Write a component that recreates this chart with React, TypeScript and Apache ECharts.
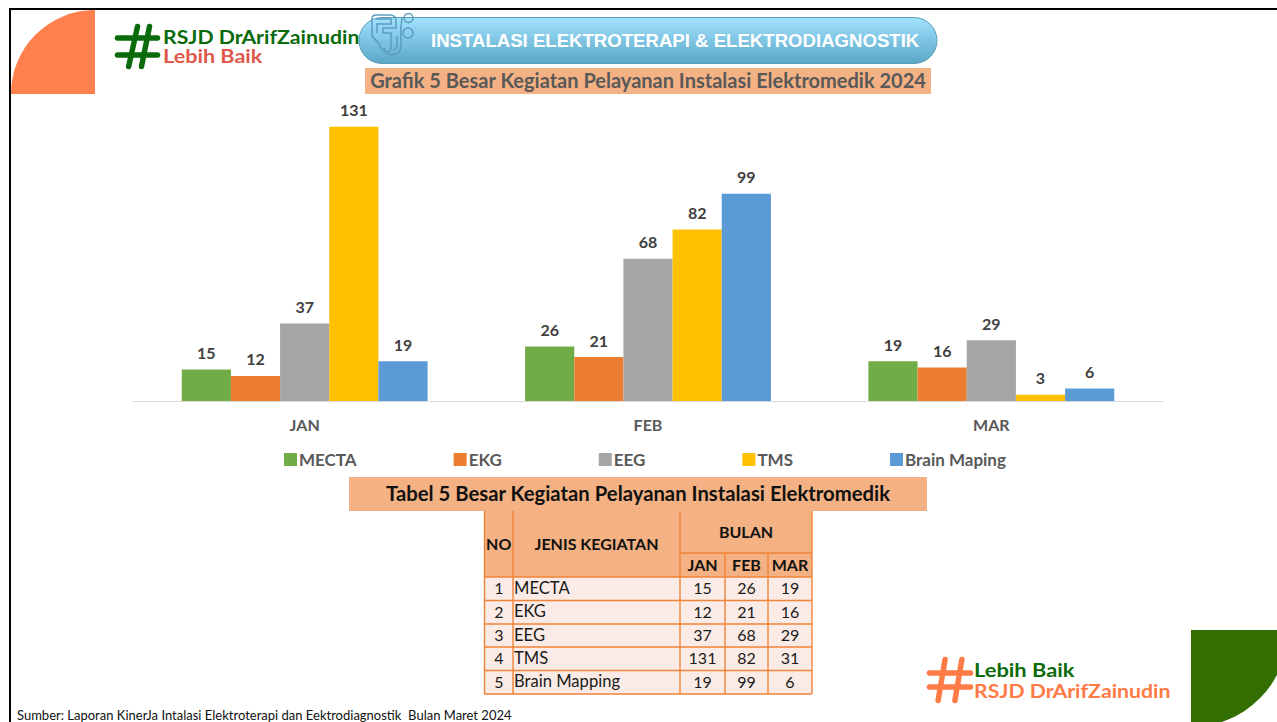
import React, { useEffect, useRef } from "react";
import * as echarts from "echarts";

const months = ["JAN", "FEB", "MAR"];
const mecta = [15, 26, 19];
const ekg = [12, 21, 16];
const eeg = [37, 68, 29];
const tms = [131, 82, 3];
const brain = [19, 99, 6];
const seriesNames = ["MECTA", "EKG", "EEG", "TMS", "Brain Maping"];
const seriesColors = ["#70AD47", "#ED7D31", "#A5A5A5", "#FFC000", "#5B9BD5"];

const tableNames = ["MECTA", "EKG", "EEG", "TMS", "Brain Mapping"];
const tableJan = [15, 12, 37, 131, 19];
const tableFeb = [26, 21, 68, 82, 99];
const tableMar = [19, 16, 29, 31, 6];

const FONT = "Lato";
const HEAD = "Lato";
const BORDER = "#F08337";

function tableGraphics(): any[] {
  const xs = [484.5, 513, 680, 725, 768, 812];
  const ys = [577, 600.5, 624, 647, 670.5, 694];
  const out: any[] = [];
  const rect = (x: number, y: number, w: number, h: number, fill: string) =>
    out.push({ type: "rect", silent: true, shape: { x, y, width: w, height: h }, style: { fill } });
  const line = (x1: number, y1: number, x2: number, y2: number, w = 1.4) =>
    out.push({ type: "line", silent: true, shape: { x1, y1, x2, y2 }, style: { stroke: BORDER, lineWidth: w } });
  const text = (x: number, y: number, t: string, bold: boolean, align = "center", size = 16) =>
    out.push({
      type: "text",
      silent: true,
      x,
      y: y - 0.8,
      style: {
        text: t,
        fill: bold ? "#111111" : "#1a1a1a",
        font: `${bold ? "bold " : ""}${size}px ${FONT}`,
        align,
        verticalAlign: "middle",
      },
    });
  rect(xs[0], 511, xs[5] - xs[0], 66, "#F4B183");
  rect(xs[0], 577, xs[5] - xs[0], 117, "#FBEBE6");
  xs.forEach((x, i) => {
    if (i === 3 || i === 4) line(x, 553, x, 694);
    else line(x, 511, x, 694);
  });
  ys.forEach((y) => line(xs[0], y, xs[5], y));
  line(680, 553, 812, 553);
  text(498.7, 544, "NO", true);
  text(596.5, 544, "JENIS KEGIATAN", true);
  text(746, 532, "BULAN", true);
  months.forEach((m, i) => text((xs[i + 2] + xs[i + 3]) / 2, 565.5, m, true));
  tableNames.forEach((n, r) => {
    const cy = (ys[r] + ys[r + 1]) / 2;
    text(499, cy, String(r + 1), false);
    text(514, cy, n, false, "left", 16.6);
    [tableJan, tableFeb, tableMar].forEach((col, c) =>
      text((xs[c + 2] + xs[c + 3]) / 2, cy, String(col[r]), false)
    );
  });
  return out;
}

function hash(
  cx: number,
  cy: number,
  s: number,
  color: string,
  w: number,
  topA: number,
  topB: number,
  botA: number,
  botB: number,
  bar: number
): any[] {
  const segs = [
    [topA, -0.5, botA, 0.5],
    [topB, -0.5, botB, 0.5],
    [-0.5, -bar, 0.5, -bar],
    [-0.5, bar, 0.5, bar],
  ];
  return segs.map(([a, b, c, d]) => ({
    type: "line",
    silent: true,
    shape: { x1: cx + a * s, y1: cy + b * s, x2: cx + c * s, y2: cy + d * s },
    style: { stroke: color, lineWidth: w, lineCap: "round" },
  }));
}

const ICON =
  "M376 15 L390 15 Q396 15 396 21 L396 28 L383 28 L383 33 L391 33 L391 44 Q392 52 387 52 Q382 52 379 44 L372 36 L372 19 Q372 15 376 15 Z " +
  "M376 19 L391 19 L391 24 L377 24 L377 33 " +
  "M402 17 Q400 30 401 42 Q402 54 393 55 Q386 55 384 48 " +
  "M397 36 L397 44 Q397 49 393 50 " +
  "M413 18 A4.5 4.5 0 1 1 404 18 A4.5 4.5 0 1 1 413 18 Z " +
  "M413 33 A5 5 0 1 1 403 33 A5 5 0 1 1 413 33 Z";

export default function App() {
  const ref = useRef<HTMLDivElement>(null);
  useEffect(() => {
    document.body.style.margin = "0";
    echarts.graphic.registerShape("pillIcon", echarts.graphic.extendPath(ICON, {}) as any);
    const chart = echarts.init(ref.current!, null, { renderer: "svg" });
    const lists = [mecta, ekg, eeg, tms, brain];
    chart.setOption({
      animation: false,
      backgroundColor: "#FFFFFF",
      grid: { left: 133, right: 114, top: 108, height: 293, containLabel: false },
      legend: {
        left: 279,
        top: 446,
        icon: "rect",
        itemWidth: 13,
        itemHeight: 13,
        itemGap: 97,
        data: seriesNames,
        textStyle: { color: "#595959", fontFamily: FONT, fontWeight: "bold", fontSize: 17, padding: [0, 0, 0, -3] },
      },
      xAxis: {
        type: "category",
        data: months,
        axisLine: { lineStyle: { color: "#D9D9D9", width: 1 } },
        axisTick: { show: false },
        axisLabel: { color: "#595959", fontFamily: FONT, fontWeight: "bold", fontSize: 16, margin: 15 },
      },
      yAxis: { type: "value", min: 0, max: 140, show: false, splitLine: { show: false } },
      series: seriesNames.map((name, i) => ({
        name,
        type: "bar",
        data: lists[i],
        barGap: "0%",
        barCategoryGap: "28.4%",
        itemStyle: { color: seriesColors[i] },
        label: {
          show: true,
          position: "top",
          distance: 9,
          color: "#404040",
          fontFamily: FONT,
          fontWeight: "bold",
          fontSize: 16,
        },
      })),
      graphic: [
        { type: "rect", silent: true, shape: { x: 9, y: 8, width: 1268, height: 2 }, style: { fill: "#000" } },
        { type: "rect", silent: true, shape: { x: 9, y: 8, width: 2, height: 714 }, style: { fill: "#000" } },
        {
          type: "sector",
          silent: true,
          shape: { cx: 95, cy: 94, r0: 0, r: 84, startAngle: Math.PI, endAngle: Math.PI * 1.5 },
          style: { fill: "#FF7F4D" },
        },
        {
          type: "sector",
          silent: true,
          shape: { cx: 1191, cy: 630, r0: 0, r: 97, startAngle: 0, endAngle: Math.PI / 2 },
          style: { fill: "#336F00" },
        },
        ...hash(137.5, 46.5, 40, "#0B6B0B", 5.5, 0.0, 0.3, -0.22, 0.1, 0.21),
        {
          type: "text",
          silent: true,
          x: 163,
          y: 37,
          scaleX: 1.18,
          style: { text: "RSJD DrArifZainudin", fill: "#0B6B0B", font: `bold 18px ${HEAD}`, verticalAlign: "middle" },
        },
        {
          type: "text",
          silent: true,
          x: 163,
          y: 56,
          scaleX: 1.2,
          style: { text: "Lebih Baik", fill: "#E0584A", font: `bold 18px ${HEAD}`, verticalAlign: "middle" },
        },
        {
          type: "rect",
          silent: true,
          shape: { x: 359, y: 17.5, width: 578, height: 46, r: 23 },
          style: {
            fill: new echarts.graphic.LinearGradient(0, 0, 0, 1, [
              { offset: 0, color: "#A3E2FF" },
              { offset: 1, color: "#5AA7C6" },
            ]),
            stroke: "#5C9DB8",
            lineWidth: 1,
          },
        },
        {
          type: "pillIcon",
          silent: true,
          style: { fill: "none", stroke: "#5A9DBF", lineWidth: 1.5 },
        },
        {
          type: "text",
          silent: true,
          x: 431,
          y: 40,
          style: {
            text: "INSTALASI ELEKTROTERAPI & ELEKTRODIAGNOSTIK",
            fill: "#FFFFFF",
            font: "bold 18.6px 'Liberation Sans'",
            verticalAlign: "middle",
          },
        },
        { type: "rect", silent: true, shape: { x: 365, y: 68, width: 566, height: 26 }, style: { fill: "#F4B183" } },
        {
          type: "text",
          silent: true,
          x: 648,
          y: 80,
          style: {
            text: "Grafik 5 Besar Kegiatan Pelayanan Instalasi Elektromedik 2024",
            fill: "#595959",
            font: `bold 20px ${HEAD}`,
            align: "center",
            verticalAlign: "middle",
          },
        },
        { type: "rect", silent: true, shape: { x: 349, y: 477, width: 578, height: 34 }, style: { fill: "#F4B183" } },
        {
          type: "text",
          silent: true,
          x: 638,
          y: 492.5,
          style: {
            text: "Tabel 5 Besar Kegiatan Pelayanan Instalasi Elektromedik",
            fill: "#111111",
            font: `bold 20.3px ${HEAD}`,
            align: "center",
            verticalAlign: "middle",
          },
        },
        ...tableGraphics(),
        ...hash(950, 680, 41, "#FF7B45", 5.5, -0.12, 0.29, -0.29, 0.12, 0.17),
        {
          type: "text",
          silent: true,
          x: 974,
          y: 669,
          scaleX: 1.12,
          style: { text: "Lebih Baik", fill: "#0B6B0B", font: `bold 19.5px ${HEAD}`, verticalAlign: "middle" },
        },
        {
          type: "text",
          silent: true,
          x: 974,
          y: 690,
          scaleX: 1.09,
          style: { text: "RSJD DrArifZainudin", fill: "#FF7B45", font: `bold 19.5px ${HEAD}`, verticalAlign: "middle" },
        },
        {
          type: "text",
          silent: true,
          x: 17,
          y: 715,
          style: {
            text: "Sumber: Laporan KinerJa Intalasi Elektroterapi dan Eektrodiagnostik  Bulan Maret 2024",
            fill: "#111111",
            font: `13px ${FONT}`,
            verticalAlign: "middle",
          },
        },
      ],
    });
    return () => chart.dispose();
  }, []);
  return <div ref={ref} style={{ position: "fixed", left: 0, top: 0, width: 1277, height: 722 }} />;
}
